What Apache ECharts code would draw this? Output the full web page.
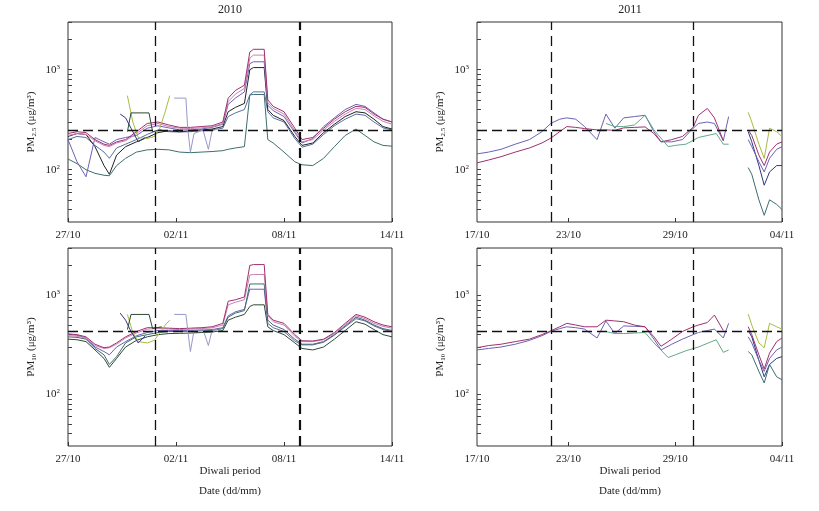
<!DOCTYPE html>
<html><head><meta charset="utf-8">
<script src="https://cdn.jsdelivr.net/npm/echarts@6/dist/echarts.min.js"></script>
<style>html,body{margin:0;padding:0;background:#fff}#c{width:819px;height:511px}</style>
</head><body><div id="c"></div>
<script>
// ---- Data (x = days from axis origin: 27/10/2010 left, 17/10/2011 right) ----
const leftTicks = {0:'27/10',6:'02/11',12:'08/11',18:'14/11'};
const rightTicks = {0.85:'17/10',6:'23/10',12:'29/10',18:'04/11'};
const yTicks = [100, 1000];
const diwali2010 = [4.86, 12.9];
const diwali2011 = [5.0, 13.0];
const pm25Limit = 250;
const pm10Limit = 430;

// PM2.5 2010
const T10 = [0,0.5,1,1.5,2,2.3,2.7,3.2,3.8,4.4,5,5.6,6.2,6.8,7.4,8,8.6,8.9,9.3,9.8,10.1,10.3,10.9,11.1,11.4,12,12.6,13,13.6,14.2,14.8,15.4,16,16.5,17,17.5,18];
const pm25_2010_magenta=[230,240,235,200,180,175,190,200,240,290,300,280,265,265,270,275,300,520,620,700,1500,1600,1600,500,430,380,260,200,210,260,320,380,430,420,360,320,300];
const pm25_2010_pink   =[220,230,225,195,175,170,185,195,230,275,290,270,260,258,262,268,290,480,570,650,1300,1400,1400,470,410,360,245,190,200,250,305,360,410,400,345,305,285];
const pm25_2010_purple =[200,120,85,210,190,180,200,210,220,260,275,262,250,250,255,265,285,450,520,600,1150,1200,1200,440,390,340,235,185,205,270,330,400,450,430,370,320,300];
const pm25_2010_black  =[215,230,225,170,110,90,140,170,190,210,235,245,240,245,250,255,270,380,420,460,1000,1050,1050,400,350,310,215,175,185,235,285,340,380,370,320,270,255];
const pm25_2010_steel  =[200,215,210,175,150,130,165,180,200,225,250,240,238,240,245,250,260,340,370,400,560,600,600,380,330,300,205,168,180,225,275,320,360,350,300,262,250];
const pm25_2010_teal   =[128,115,100,92,88,87,110,130,150,158,160,158,150,148,150,152,155,160,165,170,560,565,565,200,185,150,120,112,110,130,170,220,255,220,190,175,172];
const T10_olive=[3.3,3.6,3.9,4.4,4.8,5.1,5.4,5.65];
const pm25_2010_olive=[550,300,210,205,215,260,380,550];
const pm10_2010_olive=[640,420,340,330,350,420,500,560];
const T10_dgreen=[3.3,3.5,4.5,4.7,5.2];
const pm25_2010_dgreen=[240,370,370,240,250];
const pm10_2010_dgreen=[450,640,640,460,480];
const T10_navy=[2.9,3.2,3.5,3.9,4.3];
const pm25_2010_navy=[360,330,260,190,210];
const pm10_2010_navy=[660,560,430,330,390];
const T10_lav=[5.9,6.0,6.55,6.65,6.8,7.0,7.5,7.8,8.0,8.3];
const pm25_2010_lav=[520,520,520,260,150,230,250,160,245,255];
const pm10_2010_lav=[640,640,640,450,270,440,450,310,440,450];

// PM10 2010
const pm10_2010_magenta=[407,400,380,320,295,300,330,380,430,470,470,465,460,465,470,480,520,870,900,960,2000,2040,2040,640,560,520,400,347,345,360,420,520,640,600,540,500,480];
const pm10_2010_pink   =[390,385,370,310,290,295,320,370,415,455,460,455,450,455,460,468,500,800,850,900,1600,1620,1620,620,540,500,385,340,340,355,410,505,620,580,520,485,465];
const pm10_2010_black  =[380,375,360,290,250,200,240,330,380,400,420,430,430,432,436,440,460,600,660,700,1300,1300,1300,560,500,450,360,320,320,340,400,490,600,560,500,460,440];
const pm10_2010_purple =[400,395,370,300,270,250,300,340,390,420,440,440,440,442,445,450,470,620,680,720,1150,1150,1150,520,470,430,345,315,315,335,395,480,580,550,490,450,430];
const pm10_2010_dark   =[360,355,340,280,230,187,230,300,350,380,400,410,412,415,420,425,440,560,600,640,770,800,800,480,440,400,330,290,280,300,360,440,540,510,450,400,380];

// 2011 (right panels)
const T11=[0.85,1.5,2.2,3,3.8,4.5,5,5.5,5.9,6.4,6.9,7.6,8.1,8.6,9.1,9.7,10.3,10.8,11.2,11.8,12.4,13,13.3,13.8,14.2,14.7,15.0];
const pm25_2011_blue   =[144,150,160,180,200,240,290,320,330,320,270,200,360,260,330,340,350,240,190,190,200,260,290,300,290,195,340];
const pm25_2011_magenta=[117,125,135,150,165,185,207,240,270,265,258,250,250,248,262,265,268,230,190,200,215,265,350,410,330,195,null];
const pm10_2011_blue   =[280,290,300,320,350,390,430,460,480,470,455,370,550,410,490,485,480,360,280,320,360,400,420,440,455,370,520];
const pm10_2011_magenta=[295,310,320,340,360,400,437,480,520,500,480,480,560,550,540,500,480,380,305,360,430,480,500,530,630,440,null];
const T11g=[8.1,8.6,9.1,9.7,10.3,10.8,11.6,12,12.6,13.3,14.3,14.7,15.0];
const pm25_2011_green=[290,270,270,280,350,250,170,175,180,210,230,180,180];
const pm10_2011_green=[430,410,410,415,420,330,235,250,275,300,355,265,280];
const T11b=[16.1,16.3,16.7,17.0,17.3,17.7,18];
const pm25_2011_olive=[375,300,180,130,260,240,215];
const pm25_2011_mag2 =[250,220,140,110,150,180,190];
const pm25_2011_navy =[240,190,110,70,95,110,110];
const pm25_2011_teal =[105,90,50,35,50,45,40];
const pm25_2011_purp =[200,170,120,95,130,160,170];
const pm10_2011_olive=[645,500,330,295,520,480,455];
const pm10_2011_mag2 =[480,400,250,180,260,340,370];
const pm10_2011_navy =[440,380,220,150,200,230,240];
const pm10_2011_teal =[270,250,170,130,200,150,140];
const pm10_2011_purp =[380,330,220,170,230,280,300];

// ---- Chart ----
const C={magenta:'#a0306e',pink:'#cc80b4',purple:'#6c62b4',black:'#222222',steel:'#5870a0',teal:'#3e6e6e',olive:'#a8bc40',navy:'#2e3880',lav:'#9898cc',green:'#64a888',dgreen:'#2e4a34'};
const zip=(t,v)=>t.map((x,i)=>[x,v[i]]);
const font='Liberation Serif';
const sup={s:{fontSize:7,verticalAlign:'top',padding:[0,0,6,0],fontFamily:font,color:'#222'}};
const grids=[
 {left:68,top:22,width:324,height:200},
 {left:477,top:22,width:305,height:200},
 {left:68,top:248,width:324,height:198},
 {left:477,top:248,width:305,height:198}
];
const xAxes=grids.map((g,i)=>{
 const right=i%2===1;
 const m=right?rightTicks:leftTicks;
 return {type:'value',gridIndex:i,min:right?0.85:0,max:18,interval:right?undefined:6,
  axisLine:{show:false},splitLine:{show:false},
  axisTick:{inside:true,length:4,lineStyle:{color:'#333'},customValues:right?[6,12,18]:undefined},
  axisLabel:{fontFamily:font,fontSize:11,color:'#222',margin:8,customValues:right?[0.85,6,12,18]:undefined,
   formatter:v=>m[v]!==undefined?m[v]:''}};
});
const yAxes=grids.map((g,i)=>({type:'log',logBase:10,gridIndex:i,min:30,max:3000,
 name:i<2?'PM{b|2.5} (μg/m³)':'PM{b|10} (μg/m³)',nameLocation:'middle',nameGap:30,nameRotate:90,
 nameTextStyle:{fontFamily:font,fontSize:11,color:'#222',rich:{b:{fontSize:7,verticalAlign:'bottom',padding:[6,0,0,0],fontFamily:font,color:'#222'}}},
 axisLine:{show:false},splitLine:{show:false},minorTick:{show:false},
 axisTick:{inside:true,length:4,customValues:[40,50,60,70,80,90,100,200,300,400,500,600,700,800,900,1000,2000,3000],lineStyle:{color:'#444'}},
 axisLabel:{fontFamily:font,fontSize:11,color:'#222',customValues:yTicks,formatter:v=>v==100?'10{s|2}':'10{s|3}',rich:sup}}));
function S(gi,t,v,col){
 return {type:'line',xAxisIndex:gi,yAxisIndex:gi,data:zip(t,v),symbol:'none',connectNulls:false,
  lineStyle:{width:1,color:col},itemStyle:{color:col},silent:true,animation:false};
}
function i2(gi){return gi%2===0?2.2:1.3;}
function marks(gi,diw,lim){
 return {type:'line',xAxisIndex:gi,yAxisIndex:gi,data:[],symbol:'none',animation:false,silent:true,
  markLine:{symbol:'none',silent:true,label:{show:false},
   data:[{xAxis:diw[0],lineStyle:{type:[10,6],width:1.3,color:'#111'}},
         {xAxis:diw[1],lineStyle:{type:[10,6],width:i2(gi),color:'#111'}},
         {yAxis:lim,lineStyle:{type:[10,5],width:1.3,color:'#111'}}]}};
}
const series=[
 S(0,T10,pm25_2010_teal,C.teal),S(0,T10,pm25_2010_steel,C.steel),S(0,T10,pm25_2010_black,C.black),
 S(0,T10,pm25_2010_purple,C.purple),S(0,T10,pm25_2010_pink,C.pink),S(0,T10,pm25_2010_magenta,C.magenta),
 S(0,T10_olive,pm25_2010_olive,C.olive),S(0,T10_dgreen,pm25_2010_dgreen,C.dgreen),S(0,T10_navy,pm25_2010_navy,C.navy),S(0,T10_lav,pm25_2010_lav,C.lav),
 marks(0,diwali2010,pm25Limit),
 S(1,T11,pm25_2011_blue,C.purple),S(1,T11,pm25_2011_magenta,C.magenta),S(1,T11g,pm25_2011_green,C.green),
 S(1,T11b,pm25_2011_olive,C.olive),S(1,T11b,pm25_2011_mag2,C.magenta),S(1,T11b,pm25_2011_navy,C.navy),S(1,T11b,pm25_2011_teal,C.teal),S(1,T11b,pm25_2011_purp,C.purple),
 marks(1,diwali2011,pm25Limit),
 S(2,T10,pm10_2010_dark,C.dgreen),S(2,T10,pm10_2010_purple,C.purple),S(2,T10,pm10_2010_black,C.teal),
 S(2,T10,pm10_2010_pink,C.pink),S(2,T10,pm10_2010_magenta,C.magenta),
 S(2,T10_olive,pm10_2010_olive,C.olive),S(2,T10_dgreen,pm10_2010_dgreen,C.dgreen),S(2,T10_navy,pm10_2010_navy,C.navy),S(2,T10_lav,pm10_2010_lav,C.lav),
 marks(2,diwali2010,pm10Limit),
 S(3,T11,pm10_2011_blue,C.purple),S(3,T11,pm10_2011_magenta,C.magenta),S(3,T11g,pm10_2011_green,C.green),
 S(3,T11b,pm10_2011_olive,C.olive),S(3,T11b,pm10_2011_mag2,C.magenta),S(3,T11b,pm10_2011_navy,C.navy),S(3,T11b,pm10_2011_teal,C.teal),S(3,T11b,pm10_2011_purp,C.purple),
 marks(3,diwali2011,pm10Limit)
];
const chart=echarts.init(document.getElementById('c'),null,{renderer:'canvas'});
chart.setOption({animation:false,backgroundColor:'#fff',
 grid:grids.map(g=>Object.assign({show:true,borderColor:'#333',borderWidth:1,backgroundColor:'transparent'},g)),
 xAxis:xAxes,yAxis:yAxes,series:series,
 graphic:[
  {type:'text',x:230,y:4,style:{text:'2010',font:'12px "Liberation Serif"',fill:'#222',textAlign:'center'}},
  {type:'text',x:630,y:4,style:{text:'2011',font:'12px "Liberation Serif"',fill:'#222',textAlign:'center'}},
  {type:'text',x:230,y:466,style:{text:'Diwali period',font:'11px "Liberation Serif"',fill:'#222',textAlign:'center'}},
  {type:'text',x:230,y:486,style:{text:'Date (dd/mm)',font:'11px "Liberation Serif"',fill:'#222',textAlign:'center'}},
  {type:'text',x:630,y:466,style:{text:'Diwali period',font:'11px "Liberation Serif"',fill:'#222',textAlign:'center'}},
  {type:'text',x:630,y:486,style:{text:'Date (dd/mm)',font:'11px "Liberation Serif"',fill:'#222',textAlign:'center'}}
 ]});
</script></body></html>
